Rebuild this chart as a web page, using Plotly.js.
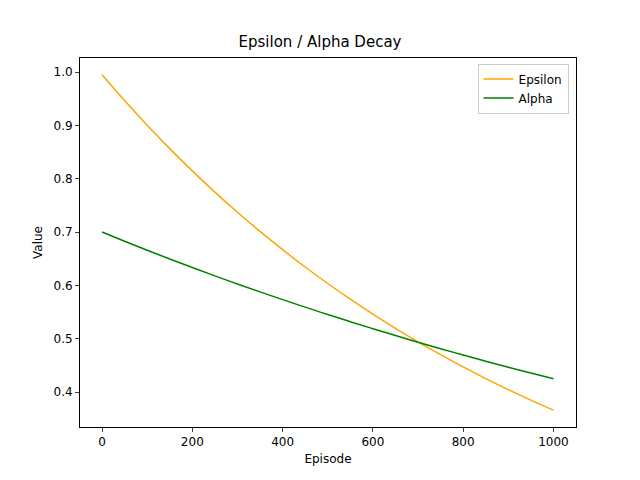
<!DOCTYPE html>
<html><head><script src="https://cdn.plot.ly/plotly-3.0.1.min.js"></script></head>
<body style="margin:0">
<div id="c" style="width:640px;height:480px"></div>
<script>
const episodes = [0,50,100,150,200,250,300,350,400,450,500,550,600,650,700,750,800,850,900,950,1000];
const epsilon = [0.995,0.9465,0.9003,0.8564,0.8146,0.7749,0.7371,0.7011,0.6669,0.6344,0.6035,0.5740,0.5460,0.5194,0.4941,0.4700,0.4470,0.4252,0.4045,0.3848,0.3660];
const alpha = [0.7,0.6827,0.6659,0.6495,0.6335,0.6178,0.6026,0.5877,0.5732,0.5591,0.5453,0.5318,0.5187,0.5059,0.4934,0.4812,0.4694,0.4578,0.4465,0.4355,0.4247];
const font = {family:'DejaVu Sans', size:12, color:'#000'};
Plotly.newPlot('c', [
 {x:episodes, y:epsilon, name:'Epsilon', mode:'lines', line:{color:'orange', width:1.5, shape:'spline'}},
 {x:episodes, y:alpha, name:'Alpha', mode:'lines', line:{color:'green', width:1.5, shape:'spline'}}
], {
 width:640, height:480, font:font,
 paper_bgcolor:'#fff', plot_bgcolor:'#fff',
 margin:{l:80, r:64, t:58, b:53},
 title:{text:'Epsilon / Alpha Decay', font:{family:'DejaVu Sans', size:15}, x:0.5, y:0.925, xanchor:'center'},
 xaxis:{title:{text:'Episode', standoff:6, font:{size:12}}, range:[-48.8,1050], tickvals:[0,200,400,600,800,1000], showgrid:false, zeroline:false, showline:true, mirror:true, linecolor:'#000', ticks:'outside', ticklen:4},
 yaxis:{title:{text:'Value', standoff:8, font:{size:12}}, range:[0.3344,1.0263], tickvals:[0.4,0.5,0.6,0.7,0.8,0.9,1.0], tickformat:'.1f', showgrid:false, zeroline:false, showline:true, mirror:true, linecolor:'#000', ticks:'outside', ticklen:4},
 legend:{x:0.985, y:0.985, xanchor:'right', yanchor:'top', bordercolor:'#ccc', borderwidth:1, bgcolor:'rgba(255,255,255,0.8)'},
 showlegend:true
}, {staticPlot:true});
</script></body></html>
